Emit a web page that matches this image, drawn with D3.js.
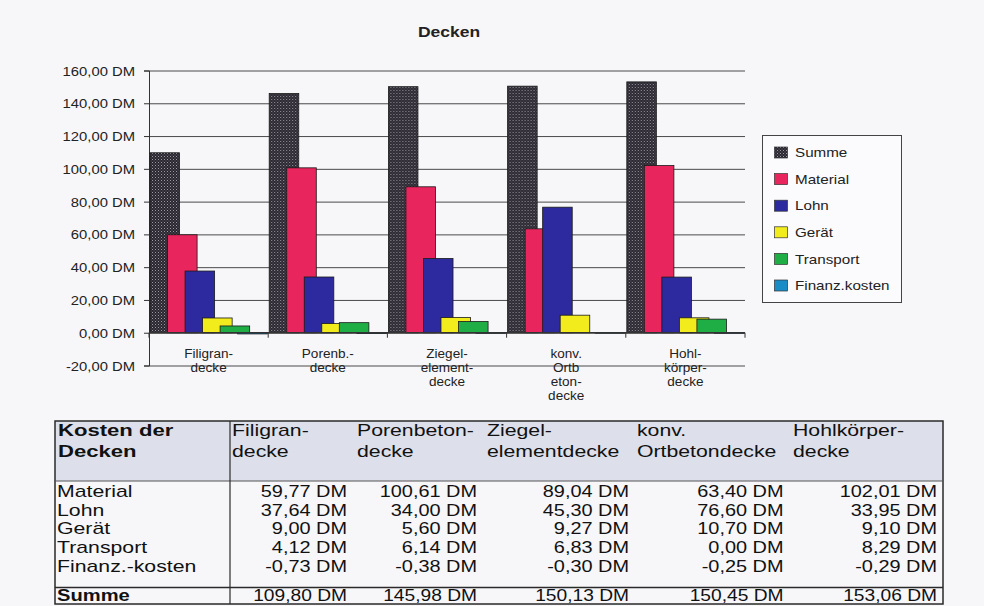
<!DOCTYPE html>
<html>
<head>
<meta charset="utf-8">
<script src="https://cdn.jsdelivr.net/npm/d3@7"></script>
<style>
  html, body { margin: 0; padding: 0; background: #f7f7fa; }
  svg { display: block; font-family: "Liberation Sans", Arial, sans-serif; }
</style>
</head>
<body>
<svg id="chart" width="984" height="606"></svg>
<script>
// ---------------- data ----------------
const categories = ["Filigrandecke", "Porenbetondecke", "Ziegelelementdecke", "konv. Ortbetondecke", "Hohlkörperdecke"];
const axisLabels = [["Filigran-", "decke"], ["Porenb.-", "decke"], ["Ziegel-", "element-", "decke"], ["konv.", "Ortb", "eton-", "decke"], ["Hohl-", "körper-", "decke"]];
const tableHeaders = [["Filigran-", "decke"], ["Porenbeton-", "decke"], ["Ziegel-", "elementdecke"], ["konv.", "Ortbetondecke"], ["Hohlkörper-", "decke"]];
const seriesNames = ["Summe", "Material", "Lohn", "Gerät", "Transport", "Finanz.kosten"];
const rowLabels = ["Material", "Lohn", "Gerät", "Transport", "Finanz.-kosten"];
const summe = [109.80, 145.98, 150.13, 150.45, 153.06];
const material = [59.77, 100.61, 89.04, 63.40, 102.01];
const lohn = [37.64, 34.00, 45.30, 76.60, 33.95];
const geraet = [9.00, 5.60, 9.27, 10.70, 9.10];
const transport = [4.12, 6.14, 6.83, 0.00, 8.29];
const finanz = [-0.73, -0.38, -0.30, -0.25, -0.29];
const yTicks = [-20, 0, 20, 40, 60, 80, 100, 120, 140, 160];
const title = "Decken";
const tableTitle = ["Kosten der", "Decken"];
const sumLabel = "Summe";

const seriesValues = [summe, material, lohn, geraet, transport, finanz];
const tableRows = [material, lohn, geraet, transport, finanz];
const colors = ["url(#summePat)", "#e8255c", "#2c2a9e", "#f2ec1c", "#1fae46", "#1a8cc6"];

// ---------------- setup ----------------
const svg = d3.select("#chart");
const de = d3.formatLocale({ decimal: ",", thousands: ".", grouping: [3], currency: ["", " DM"], minus: "-" });
const fmt = v => de.format(".2f")(v) + " DM";
const ink = "#222";

const defs = svg.append("defs");
const pat = defs.append("pattern").attr("id", "summePat").attr("width", 3).attr("height", 3)
  .attr("patternUnits", "userSpaceOnUse");
pat.append("rect").attr("width", 3).attr("height", 3).attr("fill", "#2a2730");
pat.append("rect").attr("x", 0).attr("y", 0).attr("width", 1).attr("height", 1).attr("fill", "#9b99a3");
pat.append("rect").attr("x", 1.5).attr("y", 1.5).attr("width", 1).attr("height", 1).attr("fill", "#6d6a75");

// scales
const plotL = 149, plotR = 745;
const y = d3.scaleLinear().domain([-20, 160]).range([365.5, 70.5]);
const x0 = d3.scaleBand().domain(categories).range([plotL, plotR]).padding(0);
const bw = x0.bandwidth();
const barW = bw * 0.248;
const xs = d3.scalePoint().domain(seriesNames).range([1, bw - 1 - barW]);

// title
svg.append("text").attr("transform", "translate(449,37) scale(1.25,1)")
  .attr("text-anchor", "middle").attr("font-size", 14).attr("font-weight", "bold").attr("fill", ink)
  .text(title);

// gridlines
const grid = svg.append("g").attr("transform", `translate(${plotL},0)`)
  .call(d3.axisLeft(y).tickValues(yTicks).tickSize(-(plotR - plotL)).tickFormat(""));
grid.select(".domain").remove();
grid.selectAll(".tick line").attr("stroke", "#4a4a4a").attr("stroke-width", 1);

// y axis
const yAxis = svg.append("g").attr("transform", `translate(${plotL},0)`)
  .call(d3.axisLeft(y).tickValues(yTicks).tickSize(5).tickFormat(fmt));
yAxis.attr("font-family", null).attr("font-size", null);
yAxis.select(".domain").attr("stroke", "#333");
yAxis.selectAll(".tick line").attr("stroke", "#333");
yAxis.selectAll(".tick text").attr("x", null).attr("dy", null)
  .attr("transform", "translate(-14,4.6) scale(1.14,1)")
  .attr("font-size", 13).attr("fill", ink);

// bars
const groups = svg.append("g").selectAll("g").data(categories).join("g")
  .attr("transform", d => `translate(${x0(d)},0)`);
seriesNames.forEach((s, si) => {
  groups.append("rect")
    .attr("x", xs(s))
    .attr("width", barW)
    .attr("y", (d, ci) => y(Math.max(0, seriesValues[si][ci])))
    .attr("height", (d, ci) => Math.abs(y(seriesValues[si][ci]) - y(0)))
    .attr("fill", colors[si])
    .attr("stroke", "#1a1a1a").attr("stroke-width", 0.8);
});

// zero line / x axis with boundary ticks
svg.append("line").attr("x1", plotL).attr("x2", plotR).attr("y1", y(0)).attr("y2", y(0))
  .attr("stroke", "#333").attr("stroke-width", 1.2);
const bounds = categories.map(c => x0(c)).concat([plotR]);
svg.append("g").selectAll("line").data(bounds).join("line")
  .attr("x1", d => d).attr("x2", d => d).attr("y1", y(0)).attr("y2", y(0) + 5)
  .attr("stroke", "#333");

// category labels
categories.forEach((c, i) => {
  axisLabels[i].forEach((line, li) => {
    svg.append("text")
      .attr("transform", `translate(${x0(c) + bw / 2},${357.5 + li * 14}) scale(1.13,1)`)
      .attr("text-anchor", "middle").attr("font-size", 12).attr("fill", ink).text(line);
  });
});

// legend
const lg = svg.append("g");
lg.append("rect").attr("x", 762.5).attr("y", 135.5).attr("width", 139).attr("height", 167)
  .attr("fill", "#fbfbfd").attr("stroke", "#444").attr("stroke-width", 1);
seriesNames.forEach((s, i) => {
  const cy = 152.5 + i * 26.6;
  lg.append("rect").attr("x", 774.5).attr("y", cy - 5.5).attr("width", 13).attr("height", 11)
    .attr("fill", colors[i]).attr("stroke", "#333").attr("stroke-width", 0.7);
  lg.append("text").attr("transform", `translate(795,${cy + 4.7}) scale(1.17,1)`)
    .attr("font-size", 13).attr("fill", ink).text(s);
});

// ---------------- table ----------------
const tb = svg.append("g");
const tL = 55, tR = 943, tT = 421, tB = 604, headB = 481, sumT = 587.5, divX = 230;
tb.append("rect").attr("x", tL).attr("y", tT).attr("width", tR - tL).attr("height", headB - tT)
  .attr("fill", "#dde0ea");
tb.append("rect").attr("x", tL).attr("y", tT).attr("width", tR - tL).attr("height", tB - tT)
  .attr("fill", "none").attr("stroke", "#2a2a2a").attr("stroke-width", 1.5);
tb.append("line").attr("x1", tL).attr("x2", tR).attr("y1", headB).attr("y2", headB).attr("stroke", "#555").attr("stroke-width", 1);
tb.append("line").attr("x1", tL).attr("x2", tR).attr("y1", sumT).attr("y2", sumT).attr("stroke", "#2a2a2a").attr("stroke-width", 1.5);
tb.append("line").attr("x1", divX).attr("x2", divX).attr("y1", tT).attr("y2", tB).attr("stroke", "#2a2a2a").attr("stroke-width", 1.2);

const headBase = [435.5, 457];
tableTitle.forEach((t, i) => {
  tb.append("text").attr("transform", `translate(58,${headBase[i]}) scale(1.3,1)`)
    .attr("font-size", 17).attr("font-weight", "bold").attr("fill", "#111").text(t);
});
const colLeft = [232, 357, 487, 637, 793];
const colRight = [347, 477, 629, 783.5, 937];
tableHeaders.forEach((h, ci) => {
  h.forEach((t, li) => {
    tb.append("text").attr("transform", `translate(${colLeft[ci]},${headBase[li]}) scale(1.25,1)`)
      .attr("font-size", 17).attr("fill", "#111").text(t);
  });
});
const rowBase = [497, 515.5, 534, 553, 572];
rowLabels.forEach((r, ri) => {
  tb.append("text").attr("transform", `translate(57,${rowBase[ri]}) scale(1.25,1)`)
    .attr("font-size", 17).attr("fill", "#111").text(r);
  tableRows[ri].forEach((v, ci) => {
    tb.append("text").attr("transform", `translate(${colRight[ci]},${rowBase[ri]}) scale(1.17,1)`)
      .attr("text-anchor", "end").attr("font-size", 17).attr("fill", "#111").text(fmt(v));
  });
});
tb.append("text").attr("transform", `translate(57,600.5) scale(1.26,1)`)
  .attr("font-size", 16).attr("font-weight", "bold").attr("fill", "#111").text(sumLabel);
summe.forEach((v, ci) => {
  tb.append("text").attr("transform", `translate(${colRight[ci]},600.5) scale(1.2,1)`)
    .attr("text-anchor", "end").attr("font-size", 16).attr("fill", "#111").text(fmt(v));
});
</script>
</body>
</html>
